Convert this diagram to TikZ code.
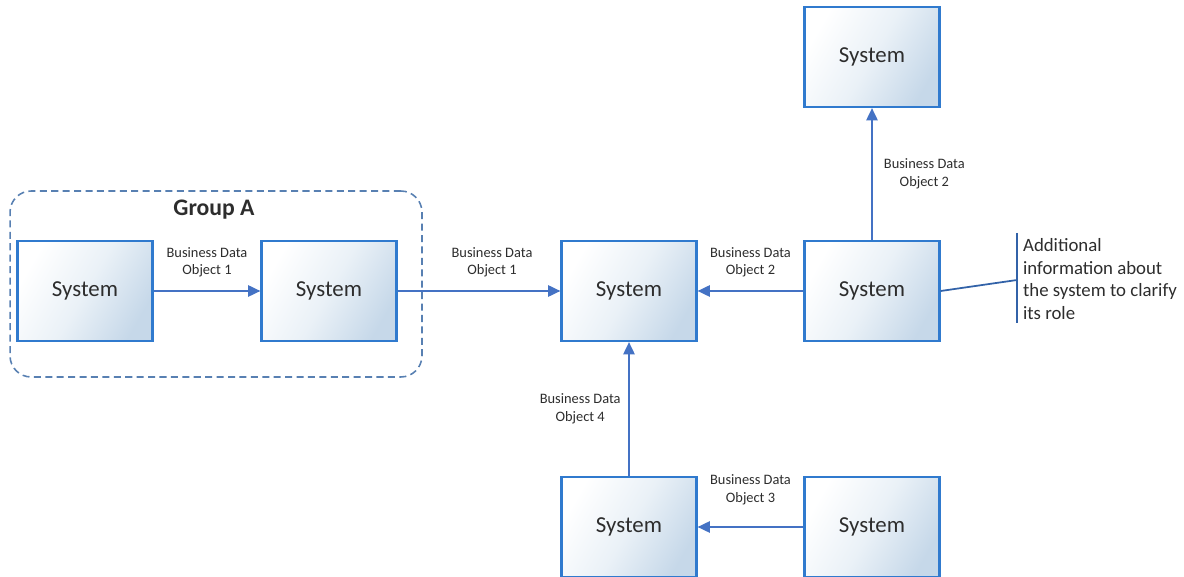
\documentclass[tikz,border=0pt]{standalone}
\usepackage{fontspec}
\setmainfont{Carlito}
\usetikzlibrary{arrows.meta,positioning,calc}

\definecolor{sysblue}{RGB}{48,122,206}
\definecolor{sysfill}{RGB}{198,216,233}
\definecolor{sysmid}{RGB}{234,241,247}
\definecolor{flowblue}{RGB}{68,114,196}
\definecolor{groupblue}{RGB}{88,128,178}
\definecolor{noteblue}{RGB}{50,98,168}
\definecolor{textgray}{RGB}{45,45,45}

\tikzset{
    sysbox/.style={rectangle, draw=sysblue, line width=1.3pt, minimum width=2.7cm, minimum height=2cm,
        top color=white, bottom color=sysfill, middle color=sysmid, shading angle=60,
        text=textgray, font=\fontsize{13}{15}\selectfont},
    flow/.style={draw=flowblue, line width=0.9pt, -{Triangle[length=7pt,width=6.5pt]}},
    flowlabel/.style={text=textgray, align=center, font=\fontsize{8.2}{10}\selectfont},
    groupbox/.style={draw=groupblue, line width=0.9pt, dash pattern=on 4pt off 2.5pt, rounded corners=12pt,
        minimum width=8.24cm, minimum height=3.72cm},
}

\begin{document}
\begin{tikzpicture}[x=0.02cm, y=-0.02cm]
    \useasboundingbox (0, 0) rectangle (1184, 577);

    % group frame
    \node[groupbox] (group_a) at (216, 284) {};
    \node[font=\bfseries\fontsize{13.5}{15}\selectfont, text=textgray] (group_a_title) at ($(group_a.north)+(-2, 19)$) {Group A};

    % systems
    \node[sysbox] (sys_a_one) at (85, 291) {System};
    \node[sysbox] (sys_a_two) at (329, 291) {System};
    \node[sysbox] (sys_hub) at (629, 291) {System};
    \node[sysbox] (sys_right) at (872, 291) {System};
    \node[sysbox] (sys_top) at (872, 57) {System};
    \node[sysbox] (sys_bot_left) at (629, 527) {System};
    \node[sysbox] (sys_bot_right) at (872, 527) {System};

    % data flows
    \draw[flow] (sys_a_one) -- node[flowlabel, above=4pt] {Business Data\\Object 1} (sys_a_two);
    \draw[flow] (sys_a_two) -- node[flowlabel, above=4pt, pos=0.58] {Business Data\\Object 1} (sys_hub);
    \draw[flow] (sys_right) -- node[flowlabel, above=4pt] {Business Data\\Object 2} (sys_hub);
    \draw[flow] (sys_right) -- node[flowlabel, right=3pt] {Business Data\\Object 2} (sys_top);
    \draw[flow] (sys_bot_left) -- node[flowlabel, left=1pt] {Business Data\\Object 4} (sys_hub);
    \draw[flow] (sys_bot_right) -- node[flowlabel, above=9pt] {Business Data\\Object 3} (sys_bot_left);

    % annotation
    \coordinate (note_top) at (1017, 233);
    \coordinate (note_bot) at (1017, 323);
    \coordinate (note_mid) at (1017, 280);
    \draw[noteblue, line width=1pt] (note_top) -- (note_bot);
    \draw[noteblue, line width=1pt] (sys_right.east) -- (note_mid);
    \node[anchor=west, align=left, text=textgray, inner sep=1pt, font=\fontsize{10.7}{12.8}\selectfont] (note) at (1021, 279)
        {Additional\\information about\\the system to clarify\\its role};
\end{tikzpicture}
\end{document}
